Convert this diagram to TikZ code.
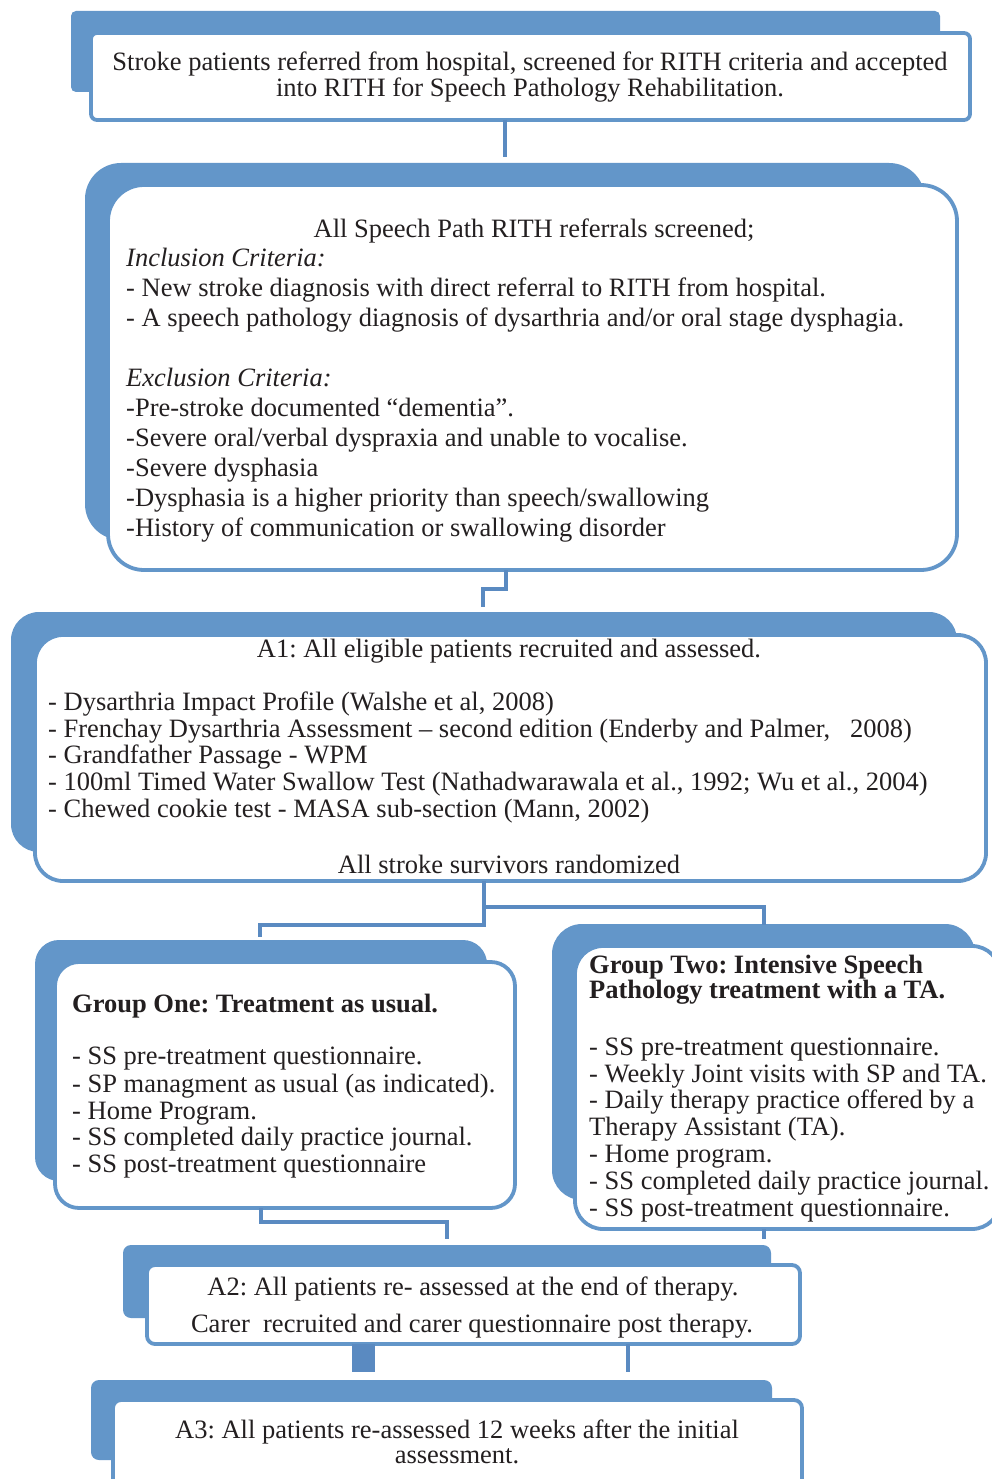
\documentclass[tikz,border=0pt]{standalone}
\usepackage{fontspec}
\setmainfont{Liberation Serif}
\frenchspacing
\definecolor{boxblue}{HTML}{6396C9}
\definecolor{linkblue}{HTML}{5A8AC1}
\definecolor{ink}{HTML}{231F20}
\begin{document}
\begin{tikzpicture}[x=1pt,y=-1pt,
 shadowbox/.style={fill=boxblue, draw=none, anchor=north west, inner sep=0pt, outer sep=0pt},
 whitebox/.style={fill=white, draw=boxblue, line width=3.8pt, anchor=north west, inner sep=0pt, outer sep=0pt},
 conn/.style={draw=linkblue, line width=4pt},
 txt/.style={inner sep=0pt, text=ink, font=\fontsize{26.5}{30}\selectfont},
 lt/.style={txt, anchor=base west},
 ct/.style={txt, anchor=base},
]
\useasboundingbox (0,0) rectangle (992,1479);
\fill[white] (0,0) rectangle (992,1479);

% box 1
\node[shadowbox, minimum width=869pt, minimum height=81pt, rounded corners=5pt] (s1) at (71,11) {};
\node[whitebox, minimum width=879pt, minimum height=87pt, rounded corners=6pt] (b1) at (91,33) {};
% box 2
\node[shadowbox, minimum width=840pt, minimum height=377pt, rounded corners=36pt] (s2) at (85,163) {};
\node[whitebox, minimum width=849pt, minimum height=385pt, rounded corners=36pt] (b2) at (108,185) {};
% box 3
\node[shadowbox, minimum width=946pt, minimum height=240pt, rounded corners=28pt] (s3) at (11,612) {};
\node[whitebox, minimum width=951pt, minimum height=246pt, rounded corners=28pt] (b3) at (35,635) {};
% box 4
\node[shadowbox, minimum width=452pt, minimum height=241pt, rounded corners=24pt] (s4) at (35,940) {};
\node[whitebox, minimum width=460pt, minimum height=246pt, rounded corners=24pt] (b4) at (55,962) {};
% box 6
\node[shadowbox, minimum width=423pt, minimum height=276pt, rounded corners=30pt] (s6) at (552,924) {};
\node[whitebox, minimum width=425pt, minimum height=283pt, rounded corners=28pt] (b6) at (575,946) {};
% box 5
\node[shadowbox, minimum width=648pt, minimum height=73pt, rounded corners=8pt] (s5) at (123,1245) {};
\node[whitebox, minimum width=653pt, minimum height=79pt, rounded corners=8pt] (b5) at (147,1265) {};
% box 7
\node[shadowbox, minimum width=681pt, minimum height=80pt, rounded corners=8pt] (s7) at (91,1380) {};
\node[whitebox, minimum width=689pt, minimum height=120pt, rounded corners=8pt] (b7) at (113,1400) {};

% connector helper coordinates
\coordinate (k1) at (505,0);
\coordinate (k2) at (506,589);
\coordinate (k3) at (483,0);
\coordinate (k4) at (484,925);
\coordinate (k5) at (260,0);
\coordinate (k6) at (764,907);
\coordinate (k7) at (261,1222);
\coordinate (k8) at (447,0);
\coordinate (k9) at (764,0);
\coordinate (k10) at (363,0);
\coordinate (k11) at (628,0);

\draw[conn] (b1.south -| k1) -- ([yshift=6pt]s2.north -| k1);
\draw[conn] (b2.south -| k2) -- (k2) -- (k2 -| k3) -- ([yshift=5pt]s3.north -| k3);
\draw[conn] (b3.south -| k4) -- (k4) -- (k4 -| k5) -- ([yshift=3pt]s4.north -| k5);
\draw[conn] (k4 |- k6) -- (k6) -- ([yshift=-1pt]s6.north -| k6);
\draw[conn] (b4.south -| k7) -- (k7) -- (k7 -| k8) -- ([yshift=6pt]s5.north -| k8);
\draw[conn] (b6.south -| k9) -- ([yshift=6pt]s5.north -| k9);
\draw[conn, line width=23pt] (b5.south -| k10) -- ([yshift=8pt]s7.north -| k10);
\draw[conn] (b5.south -| k11) -- ([yshift=8pt]s7.north -| k11);

% texts box 1
\node[ct] (t1a) at (530,71) {Stroke patients referred from hospital, screened for RITH criteria and accepted};
\node[ct] (t1b) at (530,97) {into RITH for Speech Pathology Rehabilitation.};
% box 2
\node[ct] (t2a) at (534,237) {All Speech Path RITH referrals screened;};
\node[lt] (t2b) at (126,266) {\itshape Inclusion Criteria:};
\node[lt] (t2c) at (126,296) {- New stroke diagnosis with direct referral to RITH from hospital.};
\node[lt] (t2d) at (126,326) {- A speech pathology diagnosis of dysarthria and/or oral stage dysphagia.};
\node[lt] (t2e) at (126,386) {\itshape Exclusion Criteria:};
\node[lt] (t2f) at (126,416) {-Pre-stroke documented “dementia”.};
\node[lt] (t2g) at (126,446) {-Severe oral/verbal dyspraxia and unable to vocalise.};
\node[lt] (t2h) at (126,476) {-Severe dysphasia};
\node[lt] (t2i) at (126,506) {-Dysphasia is a higher priority than speech/swallowing};
\node[lt] (t2j) at (126,536) {-History of communication or swallowing disorder};
% box 3
\node[ct] (t3a) at (509,657) {A1: All eligible patients recruited and assessed.};
\node[lt] (t3b) at (48,710) {- Dysarthria Impact Profile (Walshe et al, 2008)};
\node[lt] (t3c) at (48,737) {- Frenchay Dysarthria Assessment – second edition (Enderby and Palmer,\ \ \ 2008)};
\node[lt] (t3d) at (48,763) {- Grandfather Passage - WPM};
\node[lt] (t3e) at (48,790) {- 100ml Timed Water Swallow Test (Nathadwarawala et al., 1992; Wu et al., 2004)};
\node[lt] (t3f) at (48,817) {- Chewed cookie test - MASA sub-section (Mann, 2002)};
\node[ct] (t3g) at (509,873) {All stroke survivors randomized};
% box 4
\node[lt] (t4a) at (72,1012) {\bfseries Group One: Treatment as usual.};
\node[lt] (t4b) at (72,1064) {- SS pre-treatment questionnaire.};
\node[lt] (t4c) at (72,1092) {- SP managment as usual (as indicated).};
\node[lt] (t4d) at (72,1119) {- Home Program.};
\node[lt] (t4e) at (72,1145) {- SS completed daily practice journal.};
\node[lt] (t4f) at (72,1172) {- SS post-treatment questionnaire};
% box 6
\node[lt] (t6a) at (589,973) {\bfseries Group Two: Intensive Speech};
\node[lt] (t6b) at (589,998) {\bfseries Pathology treatment with a TA.};
\node[lt] (t6c) at (589,1055) {- SS pre-treatment questionnaire.};
\node[lt] (t6d) at (589,1082) {- Weekly Joint visits with SP and TA.};
\node[lt] (t6e) at (589,1108) {- Daily therapy practice offered by a};
\node[lt] (t6f) at (589,1135) {Therapy Assistant (TA).};
\node[lt] (t6g) at (589,1162) {- Home program.};
\node[lt] (t6h) at (589,1189) {- SS completed daily practice journal.};
\node[lt] (t6i) at (589,1216) {- SS post-treatment questionnaire.};
% box 5
\node[ct] (t5a) at (473,1295) {A2: All patients re- assessed at the end of therapy.};
\node[ct] (t5b) at (472,1332) {Carer\ \ recruited and carer questionnaire post therapy.};
% box 7
\node[ct] (t7a) at (457,1438) {A3: All patients re-assessed 12 weeks after the initial};
\node[ct] (t7b) at (457,1463) {assessment.};
\end{tikzpicture}
\end{document}
